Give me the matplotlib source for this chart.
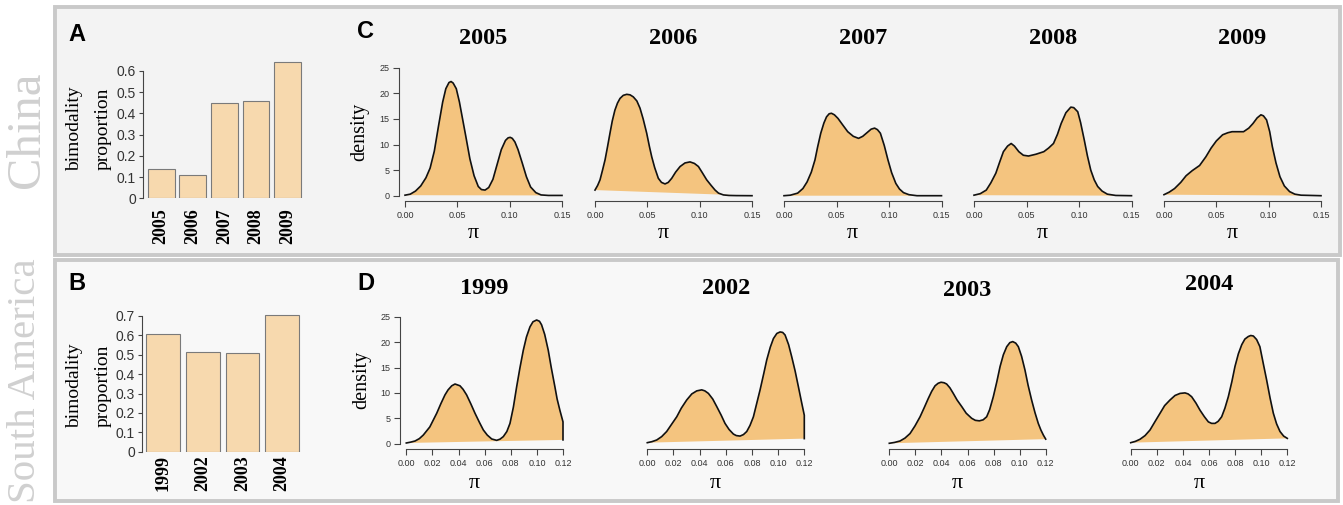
import matplotlib
matplotlib.use("Agg")
import matplotlib.pyplot as plt
from matplotlib.patches import Rectangle

# ----------------------------------------------------------------------------------
# Data
# ----------------------------------------------------------------------------------
china_years = ["2005", "2006", "2007", "2008", "2009"]
china_bimodal = [0.14, 0.108, 0.448, 0.459, 0.644]

sa_years = ["1999", "2002", "2003", "2004"]
sa_bimodal = [0.605, 0.516, 0.507, 0.705]

# density of pi per year (China)
pi_2005 = [0, 0.005, 0.01, 0.015, 0.02, 0.024, 0.028, 0.032, 0.036, 0.039,
           0.042, 0.044, 0.046, 0.049, 0.052, 0.055, 0.058, 0.062, 0.066, 0.070,
           0.073, 0.0765, 0.080, 0.084, 0.088, 0.092, 0.096, 0.0985, 0.1005, 0.1025,
           0.105, 0.108, 0.112, 0.116, 0.120, 0.125, 0.130, 0.137, 0.15]
dens_2005 = [0.1, 0.3, 0.9, 1.9, 3.5, 5.4, 8.7, 13.6, 18.3, 20.9,
             22.1, 22.3, 22.0, 20.9, 18.3, 15.0, 11.7, 7.2, 3.9, 1.8,
             1.2, 1.1, 1.6, 3.2, 6.1, 9.0, 10.8, 11.3, 11.4, 11.2,
             10.5, 9.0, 6.4, 3.7, 1.7, 0.6, 0.15, 0.05, 0.05]

pi_2006 = [0, 0.0025, 0.0048, 0.0072, 0.0096, 0.012, 0.0143, 0.0165, 0.019, 0.0215,
           0.0239, 0.027, 0.0303, 0.0335, 0.0366, 0.040, 0.043, 0.046, 0.0494, 0.052,
           0.0542, 0.057, 0.0605, 0.0635, 0.0669, 0.070, 0.0733, 0.077, 0.0813, 0.086,
           0.0908, 0.095, 0.0988, 0.1025, 0.1067, 0.111, 0.1147, 0.118, 0.1227, 0.128,
           0.135, 0.15]
dens_2006 = [1.1, 2.0, 3.1, 5.0, 7.0, 9.6, 12.2, 14.6, 16.7, 18.1,
             19.0, 19.6, 19.8, 19.7, 19.3, 18.5, 17.1, 15.0, 12.2, 9.6,
             7.6, 5.5, 3.4, 2.6, 2.3, 2.6, 3.4, 4.6, 5.7, 6.4,
             6.6, 6.3, 5.7, 4.5, 3.1, 2.0, 1.1, 0.5, 0.15, 0.05,
             0.02, 0.0]

pi_2007 = [0, 0.006, 0.013, 0.018, 0.022, 0.026, 0.0295, 0.032, 0.035, 0.038,
           0.0405, 0.043, 0.0452, 0.048, 0.0514, 0.056, 0.0607, 0.066, 0.071, 0.075,
           0.079, 0.083, 0.0863, 0.089, 0.0918, 0.0955, 0.099, 0.1025, 0.1065, 0.110,
           0.1138, 0.119, 0.1266, 0.15]
dens_2007 = [0, 0.1, 0.5, 1.4, 2.7, 4.6, 7.0, 9.5, 12.2, 14.2,
             15.4, 16.0, 16.1, 15.8, 15.1, 13.8, 12.5, 11.6, 11.2, 11.6,
             12.3, 13.0, 13.2, 12.9, 12.2, 9.8, 7.0, 4.5, 2.4, 1.3,
             0.6, 0.2, 0.0, 0.0]

pi_2008 = [0, 0.006, 0.0117, 0.016, 0.0208, 0.0245, 0.028, 0.032, 0.0354, 0.0385,
           0.0427, 0.047, 0.0519, 0.059, 0.0665, 0.071, 0.0757, 0.0795, 0.083, 0.0875,
           0.0922, 0.095, 0.0988, 0.1015, 0.105, 0.108, 0.1112, 0.1145, 0.1178, 0.122,
           0.127, 0.135, 0.15]
dens_2008 = [0.1, 0.4, 1.1, 2.5, 4.4, 6.6, 8.6, 9.7, 10.2, 9.7,
             8.6, 7.9, 7.75, 8.1, 8.6, 9.3, 10.2, 12.0, 14.1, 16.2,
             17.3, 17.2, 16.4, 14.3, 10.9, 7.8, 5.0, 3.1, 1.8, 0.9,
             0.3, 0.05, 0.0]

pi_2009 = [0, 0.005, 0.0101, 0.016, 0.0211, 0.027, 0.034, 0.040, 0.045, 0.050,
           0.056, 0.061, 0.065, 0.070, 0.076, 0.081, 0.085, 0.089, 0.0926, 0.095,
           0.098, 0.101, 0.1035, 0.107, 0.1108, 0.115, 0.12, 0.125, 0.131, 0.15]
dens_2009 = [0.2, 0.7, 1.4, 2.6, 3.9, 4.9, 5.9, 7.6, 9.3, 10.7,
             11.9, 12.3, 12.5, 12.5, 12.5, 13.2, 14.1, 15.2, 15.8, 15.6,
             14.8, 12.5, 9.6, 6.4, 3.7, 1.9, 0.8, 0.3, 0.1, 0.0]

# density of pi per year (South America)
pi_1999 = [0, 0.0032, 0.0067, 0.010, 0.013, 0.018, 0.0233, 0.0265, 0.0296, 0.032,
           0.0348, 0.0373, 0.0411, 0.0435, 0.0462, 0.0495, 0.0526, 0.056, 0.059, 0.062,
           0.0654, 0.0692, 0.0718, 0.0743, 0.077, 0.0794, 0.082, 0.0845, 0.087, 0.0896,
           0.092, 0.0947, 0.097, 0.0998, 0.102, 0.1036, 0.106, 0.1087, 0.111, 0.1138,
           0.1155, 0.1176, 0.12, 0.12]
dens_1999 = [0.14, 0.3, 0.53, 1.0, 1.7, 3.3, 6.0, 7.9, 9.6, 10.6,
             11.4, 11.75, 11.4, 10.7, 9.6, 7.8, 6.0, 4.2, 2.7, 1.7,
             0.93, 0.66, 0.9, 1.4, 2.4, 4.0, 7.2, 11.2, 14.9, 18.4,
             21.0, 23.0, 24.0, 24.35, 24.1, 23.4, 21.5, 18.4, 15.0, 11.2,
             8.8, 6.6, 4.3, 0.75]

pi_2002 = [0, 0.0035, 0.0072, 0.011, 0.0148, 0.0185, 0.0225, 0.026, 0.0301, 0.034,
           0.0378, 0.0416, 0.044, 0.0467, 0.050, 0.0531, 0.0565, 0.0594, 0.0625, 0.0658,
           0.068, 0.0709, 0.0735, 0.076, 0.0785, 0.0811, 0.0835, 0.0862, 0.089, 0.0913,
           0.094, 0.0964, 0.099, 0.1015, 0.1035, 0.1053, 0.108, 0.1104, 0.113, 0.1155,
           0.1178, 0.12, 0.12]
dens_2002 = [0.2, 0.4, 0.73, 1.4, 2.4, 3.8, 5.3, 7.0, 8.6, 9.8,
             10.4, 10.6, 10.4, 9.9, 8.8, 7.3, 5.6, 4.0, 2.8, 1.9,
             1.6, 1.5, 1.8, 2.4, 3.6, 5.3, 7.8, 10.6, 13.8, 16.5,
             19.0, 20.7, 21.7, 22.0, 21.9, 21.4, 19.5, 17.1, 14.3, 11.2,
             8.3, 5.6, 1.0]

pi_2003 = [0, 0.004, 0.0082, 0.012, 0.0159, 0.0197, 0.0236, 0.0268, 0.0299, 0.0325,
           0.0351, 0.0375, 0.0397, 0.042, 0.044, 0.0465, 0.0491, 0.052, 0.0556, 0.059,
           0.0632, 0.066, 0.0691, 0.072, 0.0747, 0.077, 0.0798, 0.0825, 0.085, 0.0875,
           0.0901, 0.0925, 0.0947, 0.097, 0.099, 0.1015, 0.1041, 0.1065, 0.1092, 0.1118,
           0.1143, 0.1163, 0.1182, 0.12]
dens_2003 = [0.08, 0.25, 0.53, 1.1, 2.0, 3.5, 5.3, 7.1, 8.9, 10.3,
             11.4, 11.9, 12.1, 12.0, 11.75, 11.0, 9.9, 8.6, 7.3, 6.0,
             5.0, 4.6, 4.5, 4.7, 5.3, 6.7, 9.25, 12.2, 15.2, 17.5,
             19.1, 19.9, 20.1, 19.8, 19.1, 17.2, 14.5, 11.5, 8.6, 6.1,
             4.0, 2.7, 1.7, 0.9]

pi_2004 = [0, 0.0035, 0.0071, 0.011, 0.0148, 0.0185, 0.0225, 0.026, 0.0301, 0.034,
           0.0378, 0.0416, 0.044, 0.0467, 0.050, 0.0531, 0.0565, 0.0595, 0.062, 0.0646,
           0.067, 0.0697, 0.0722, 0.0748, 0.0775, 0.0799, 0.0825, 0.0851, 0.0875, 0.0901,
           0.092, 0.094, 0.0965, 0.099, 0.1015, 0.1042, 0.1068, 0.1093, 0.1118, 0.1144,
           0.1172, 0.12]
dens_2004 = [0.2, 0.45, 0.87, 1.6, 2.7, 4.3, 6.0, 7.5, 8.6, 9.5,
             9.9, 10.0, 9.8, 9.25, 8.0, 6.6, 5.3, 4.3, 4.0, 4.0,
             4.4, 5.3, 7.0, 9.25, 12.2, 15.2, 17.7, 19.5, 20.6, 21.1,
             21.3, 21.2, 20.5, 19.1, 15.9, 12.5, 9.0, 6.0, 3.9, 2.4,
             1.5, 1.05]

china_curves = [(pi_2005, dens_2005), (pi_2006, dens_2006), (pi_2007, dens_2007),
                (pi_2008, dens_2008), (pi_2009, dens_2009)]
sa_curves = [(pi_1999, dens_1999), (pi_2002, dens_2002),
             (pi_2003, dens_2003), (pi_2004, dens_2004)]

china_ticks = [0, 0.05, 0.10, 0.15]
china_ticklabels = ["0.00", "0.05", "0.10", "0.15"]
sa_ticks = [0, 0.02, 0.04, 0.06, 0.08, 0.10, 0.12]
sa_ticklabels = ["0.00", "0.02", "0.04", "0.06", "0.08", "0.10", "0.12"]
dens_ticks = [0, 5, 10, 15, 20, 25]

# ----------------------------------------------------------------------------------
# Layout helpers (pixel based)
# ----------------------------------------------------------------------------------
W, H = 1343, 505
SERIF = "Liberation Serif"
SANS = "Liberation Sans"
FILL = "#f4c47f"
BAR = "#f7d9ae"
AXC = "#444444"

fig = plt.figure(figsize=(W / 100, H / 100), dpi=100)
fig.patch.set_facecolor("white")


def px_axes(x0, y0, x1, y1):
    ax = fig.add_axes([x0 / W, 1 - y1 / H, (x1 - x0) / W, (y1 - y0) / H])
    ax.set_facecolor("none")
    ax.set_zorder(2)
    return ax


def ftext(x, y, s, **kw):
    return fig.text(x / W, 1 - y / H, s, **kw)


# panel backgrounds
for (x0, y0, x1, y1, fc) in [(55, 7, 1340, 255, "#f3f3f3"),
                             (55, 260, 1338, 501, "#f8f8f8")]:
    fig.patches.append(Rectangle((x0 / W, 1 - y1 / H), (x1 - x0) / W, (y1 - y0) / H,
                                 transform=fig.transFigure, facecolor=fc,
                                 edgecolor="#c9c9c9", linewidth=2.8, zorder=-5))

# region names
ftext(27, 130, "China", rotation=90, ha="center", va="center",
      family=SERIF, fontsize=35, color="#d0d0d0")
ftext(26, 381, "South America", rotation=90, ha="center", va="center",
      family=SERIF, fontsize=29.5, color="#d0d0d0")

# panel letters
for (x, y, s) in [(68, 34, "A"), (68, 283, "B"), (357, 32, "C"), (357, 284, "D")]:
    ftext(x, y, s, ha="left", va="center", family=SANS, fontsize=17,
          fontweight="bold", color="black")


# ----------------------------------------------------------------------------------
# Bar panels
# ----------------------------------------------------------------------------------
def bar_panel(names, vals, axis_px, c0_px, pitch, zero_px, top_tick, top_px,
              ppu, right_px, label_pad, ylab_y):
    ax = px_axes(axis_px, top_px, right_px, zero_px)
    pos = list(range(len(names)))
    ax.bar(pos, vals, width=0.85, color=BAR, edgecolor="#7a7a7a", linewidth=0.8)
    ax.set_xlim((axis_px - c0_px) / pitch, (right_px - c0_px) / pitch)
    ax.set_ylim(0, (zero_px - top_px) / ppu)
    ticks = [i / 10 for i in range(int(round(top_tick * 10)) + 1)]
    ax.set_yticks(ticks)
    ax.set_yticklabels(["0"] + ["%.1f" % t for t in ticks[1:]],
                       family=SANS, fontsize=10, color="#333333")
    ax.set_xticks(pos)
    ax.set_xticklabels(names, rotation=90, family=SERIF, fontsize=13,
                       fontweight="bold", va="top")
    ax.tick_params(axis="x", length=0, pad=label_pad)
    ax.tick_params(axis="y", length=3, width=0.8, color=AXC, pad=2)
    for s in ["top", "right", "bottom"]:
        ax.spines[s].set_visible(False)
    ax.spines["left"].set_bounds(0, top_tick)
    ax.spines["left"].set_color(AXC)
    ax.spines["left"].set_linewidth(0.8)
    ftext(75, ylab_y, "bimodality", rotation=90, ha="center", va="center",
          family=SERIF, fontsize=14)
    ftext(103.5, ylab_y, "proportion", rotation=90, ha="center", va="center",
          family=SERIF, fontsize=14)
    return ax


bar_panel(china_years, china_bimodal, 142.7, 161.2, 31.6, 198.3, 0.6, 55,
          212.2, 306, 7, 129)
bar_panel(sa_years, sa_bimodal, 141.7, 163.3, 39.6, 451.7, 0.7, 305,
          193.9, 303, 2.5, 386)


# ----------------------------------------------------------------------------------
# Density panels
# ----------------------------------------------------------------------------------
def dens_panel(x, y, x0_px, x1_px, xmax, zero_px, top25_px, ticks, ticklabels,
               title, title_y, pi_y, first):
    ppx = (x1_px - x0_px) / xmax
    ppy = (zero_px - top25_px) / 25
    pad = 6
    ax = px_axes(x0_px - pad, zero_px - 28 * ppy, x1_px + pad, zero_px + 5.3)
    ax.set_xlim(-pad / ppx, xmax + pad / ppx)
    ax.set_ylim(-5.3 / ppy, 28)
    ax.fill(x, y, color=FILL, linewidth=0, zorder=1)
    ax.plot(x, y, color="#111111", linewidth=1.2, zorder=2,
            solid_joinstyle="round")
    ax.set_xticks(ticks)
    ax.set_xticklabels(ticklabels, family=SANS, fontsize=6.5, color="#333333")
    ax.tick_params(axis="both", length=4, width=0.8, color=AXC, pad=3)
    for s in ["top", "right"]:
        ax.spines[s].set_visible(False)
    ax.spines["bottom"].set_bounds(0, xmax)
    ax.spines["bottom"].set_color(AXC)
    ax.spines["bottom"].set_linewidth(0.8)
    if first:
        ax.set_yticks(dens_ticks)
        ax.set_yticklabels([str(t) for t in dens_ticks], family=SANS,
                           fontsize=6.5, color="#333333")
        ax.spines["left"].set_bounds(0, 25)
        ax.spines["left"].set_color(AXC)
        ax.spines["left"].set_linewidth(0.8)
        ftext(x0_px - 45, zero_px - 12.5 * ppy, "density", rotation=90,
              ha="center", va="center", family=SERIF, fontsize=14.5)
    else:
        ax.spines["left"].set_visible(False)
        ax.set_yticks([])
    mid = (x0_px + x1_px) / 2
    ftext(mid, title_y, title, ha="center", va="center", family=SERIF,
          fontsize=17.5, fontweight="bold")
    ftext(mid - 10, pi_y, "\u03c0", ha="center", va="center", family=SERIF,
          fontsize=16)
    return ax


china_px = [(405, 562), (595, 752), (784, 941.5), (974, 1131.5), (1164, 1321)]
for i, (cx, cy) in enumerate(china_curves):
    dens_panel(cx, cy, china_px[i][0], china_px[i][1], 0.15, 195.7, 67.7,
               china_ticks, china_ticklabels, china_years[i], 39, 233, i == 0)

sa_px = [(406.3, 563), (647.3, 804.3), (889.3, 1045.7), (1130.7, 1287.3)]
sa_title_y = [288, 288, 290, 285]
for i, (cx, cy) in enumerate(sa_curves):
    dens_panel(cx, cy, sa_px[i][0], sa_px[i][1], 0.12, 443.7, 316.7,
               sa_ticks, sa_ticklabels, sa_years[i], sa_title_y[i], 484, i == 0)

fig.savefig("out.png", dpi=100)
